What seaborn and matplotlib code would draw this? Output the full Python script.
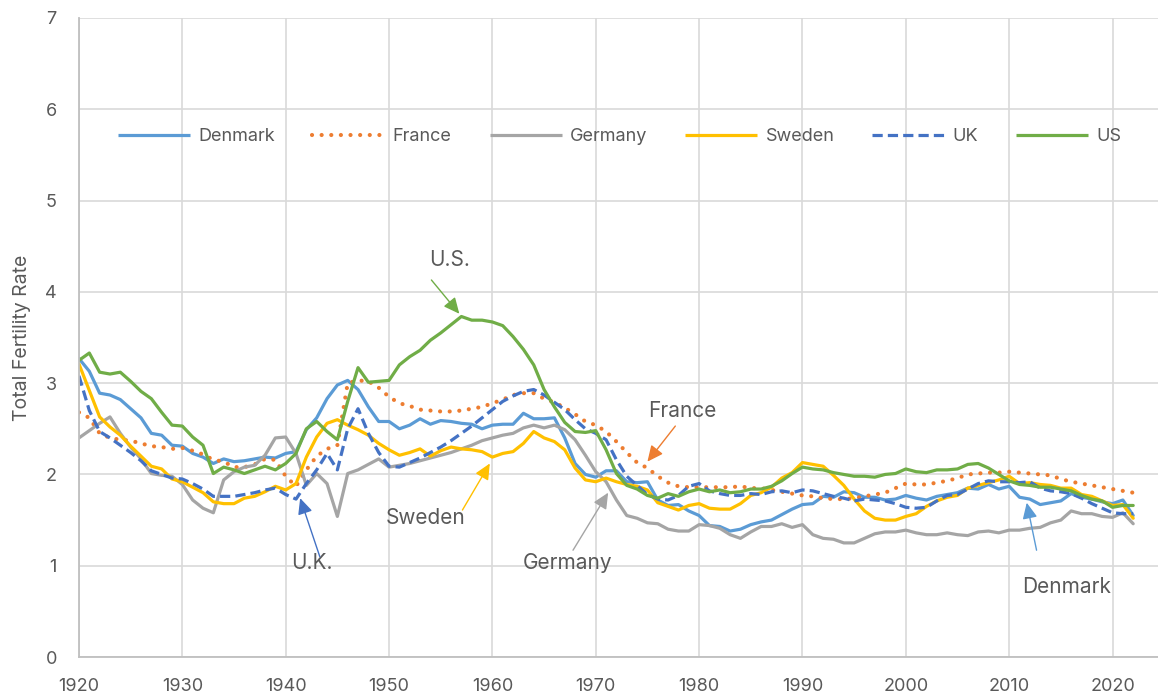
import pandas as pd
import matplotlib.pyplot as plt
import seaborn as sns
from matplotlib.lines import Line2D
from matplotlib.ticker import MultipleLocator

# ---------- DATA (total fertility rate, 1920-2022) ----------
YEARS = list(range(1920, 2023))

DENMARK = [
    3.27, 3.13, 2.89, 2.87, 2.82, 2.72, 2.62, 2.45, 2.43, 2.32,
    2.31, 2.23, 2.19, 2.12, 2.17, 2.14, 2.15, 2.17, 2.19, 2.18,
    2.23, 2.25, 2.49, 2.62, 2.83, 2.98, 3.03, 2.93, 2.74, 2.58,
    2.58, 2.50, 2.54, 2.61, 2.55, 2.59, 2.58, 2.56, 2.55, 2.50,
    2.54, 2.55, 2.55, 2.67, 2.61, 2.61, 2.62, 2.40, 2.12, 2.00,
    1.97, 2.04, 2.04, 1.92, 1.91, 1.92, 1.72, 1.66, 1.67, 1.60,
    1.55, 1.44, 1.43, 1.38, 1.40, 1.45, 1.48, 1.50, 1.56, 1.62,
    1.67, 1.68, 1.76, 1.75, 1.81, 1.80, 1.75, 1.75, 1.72, 1.73,
    1.77, 1.74, 1.72, 1.76, 1.78, 1.80, 1.85, 1.84, 1.89, 1.84,
    1.87, 1.75, 1.73, 1.67, 1.69, 1.71, 1.79, 1.75, 1.73, 1.70,
    1.68, 1.72, 1.55,
]
FRANCE = [
    2.68, 2.62, 2.45, 2.40, 2.38, 2.37, 2.34, 2.31, 2.30, 2.28,
    2.29, 2.26, 2.22, 2.16, 2.14, 2.08, 2.08, 2.11, 2.17, 2.16,
    1.98, 1.87, 2.05, 2.20, 2.28, 2.32, 3.00, 3.03, 3.02, 2.95,
    2.85, 2.78, 2.75, 2.71, 2.70, 2.69, 2.69, 2.70, 2.72, 2.74,
    2.78, 2.82, 2.87, 2.89, 2.89, 2.83, 2.79, 2.73, 2.66, 2.58,
    2.54, 2.47, 2.36, 2.24, 2.13, 2.07, 1.98, 1.91, 1.87, 1.86,
    1.86, 1.86, 1.86, 1.86, 1.87, 1.85, 1.85, 1.83, 1.81, 1.79,
    1.77, 1.76, 1.74, 1.73, 1.73, 1.74, 1.76, 1.78, 1.80, 1.85,
    1.90, 1.89, 1.89, 1.91, 1.93, 1.96, 2.00, 2.01, 2.02, 2.02,
    2.03, 2.02, 2.01, 2.00, 1.99, 1.95, 1.92, 1.90, 1.88, 1.86,
    1.84, 1.82, 1.80,
]
GERMANY = [
    2.40, 2.48, 2.56, 2.63, 2.45, 2.30, 2.17, 2.01, 1.99, 1.98,
    1.89, 1.72, 1.63, 1.58, 1.94, 2.03, 2.08, 2.10, 2.21, 2.40,
    2.41, 2.23, 1.88, 2.01, 1.90, 1.54, 2.01, 2.05, 2.11, 2.17,
    2.08, 2.10, 2.12, 2.15, 2.18, 2.21, 2.24, 2.28, 2.32, 2.37,
    2.40, 2.43, 2.45, 2.51, 2.54, 2.51, 2.54, 2.49, 2.38, 2.21,
    2.03, 1.92, 1.72, 1.55, 1.52, 1.47, 1.46, 1.40, 1.38, 1.38,
    1.45, 1.44, 1.41, 1.34, 1.30, 1.37, 1.43, 1.43, 1.46, 1.42,
    1.45, 1.34, 1.30, 1.29, 1.25, 1.25, 1.30, 1.35, 1.37, 1.37,
    1.39, 1.36, 1.34, 1.34, 1.36, 1.34, 1.33, 1.37, 1.38, 1.36,
    1.39, 1.39, 1.41, 1.42, 1.47, 1.50, 1.60, 1.57, 1.57, 1.54,
    1.53, 1.58, 1.46,
]
SWEDEN = [
    3.21, 2.92, 2.63, 2.52, 2.43, 2.31, 2.20, 2.09, 2.06, 1.95,
    1.92, 1.86, 1.80, 1.70, 1.68, 1.68, 1.74, 1.76, 1.81, 1.87,
    1.83, 1.90, 2.19, 2.41, 2.56, 2.60, 2.54, 2.49, 2.43, 2.34,
    2.27, 2.21, 2.24, 2.28, 2.20, 2.26, 2.30, 2.28, 2.27, 2.25,
    2.19, 2.23, 2.25, 2.34, 2.47, 2.40, 2.36, 2.27, 2.07, 1.94,
    1.92, 1.96, 1.92, 1.89, 1.87, 1.83, 1.69, 1.65, 1.61, 1.66,
    1.68, 1.63, 1.62, 1.62, 1.68, 1.77, 1.80, 1.86, 1.96, 2.02,
    2.13, 2.11, 2.09, 1.99, 1.88, 1.73, 1.60, 1.52, 1.50, 1.50,
    1.54, 1.57, 1.65, 1.71, 1.75, 1.77, 1.85, 1.88, 1.91, 1.94,
    1.98, 1.90, 1.91, 1.89, 1.88, 1.85, 1.85, 1.78, 1.76, 1.71,
    1.66, 1.67, 1.52,
]
UK = [
    3.08, 2.70, 2.47, 2.40, 2.32, 2.24, 2.15, 2.04, 2.00, 1.96,
    1.95, 1.90, 1.84, 1.76, 1.76, 1.76, 1.78, 1.80, 1.83, 1.85,
    1.78, 1.73, 1.90, 2.05, 2.23, 2.05, 2.50, 2.72, 2.45, 2.24,
    2.09, 2.08, 2.13, 2.18, 2.24, 2.30, 2.37, 2.45, 2.53, 2.62,
    2.71, 2.80, 2.86, 2.91, 2.93, 2.87, 2.79, 2.71, 2.60, 2.50,
    2.45, 2.38, 2.16, 1.98, 1.88, 1.78, 1.73, 1.72, 1.77, 1.87,
    1.90, 1.82, 1.79, 1.77, 1.77, 1.79, 1.78, 1.81, 1.82, 1.80,
    1.83, 1.82, 1.79, 1.76, 1.74, 1.71, 1.73, 1.72, 1.71, 1.68,
    1.64, 1.63, 1.64, 1.71, 1.77, 1.78, 1.84, 1.90, 1.93, 1.92,
    1.92, 1.91, 1.92, 1.85, 1.82, 1.81, 1.79, 1.74, 1.68, 1.63,
    1.58, 1.57, 1.57,
]
US = [
    3.25, 3.33, 3.12, 3.10, 3.12, 3.02, 2.91, 2.83, 2.68, 2.54,
    2.53, 2.41, 2.32, 2.01, 2.08, 2.05, 2.01, 2.05, 2.09, 2.05,
    2.12, 2.23, 2.50, 2.58, 2.47, 2.38, 2.80, 3.17, 3.01, 3.02,
    3.03, 3.20, 3.29, 3.36, 3.47, 3.55, 3.64, 3.73, 3.69, 3.69,
    3.67, 3.63, 3.51, 3.37, 3.20, 2.93, 2.74, 2.57, 2.47, 2.46,
    2.48, 2.27, 2.01, 1.88, 1.84, 1.77, 1.74, 1.79, 1.76, 1.81,
    1.84, 1.81, 1.83, 1.80, 1.81, 1.84, 1.84, 1.87, 1.93, 2.01,
    2.08, 2.06, 2.05, 2.02, 2.00, 1.98, 1.98, 1.97, 2.00, 2.01,
    2.06, 2.03, 2.02, 2.05, 2.05, 2.06, 2.11, 2.12, 2.07, 2.00,
    1.93, 1.89, 1.88, 1.86, 1.86, 1.84, 1.82, 1.77, 1.73, 1.71,
    1.64, 1.66, 1.66,
]

COUNTRIES = ["Denmark", "France", "Germany", "Sweden", "UK", "US"]
COLORS = {"Denmark": "#5B9BD5", "France": "#ED7D31", "Germany": "#A5A5A5",
          "Sweden": "#FFC000", "UK": "#4472C4", "US": "#70AD47"}
DASHES = {"Denmark": "", "France": (0.01, 2.3), "Germany": "",
          "Sweden": "", "UK": (3.2, 1.6), "US": ""}

# label text, text position, arrow tail, arrow head
NOTES = [
    ("U.S.", (1955.9, 4.35), (1954.1, 4.13), (1956.8, 3.76), "US"),
    ("France", (1978.4, 2.69), (1977.7, 2.53), (1975.0, 2.14), "France"),
    ("Sweden", (1953.5, 1.52), (1957.1, 1.61), (1959.75, 2.12), "Sweden"),
    ("U.K.", (1942.5, 1.03), (1943.3, 1.10), (1941.4, 1.74), "UK"),
    ("Germany", (1967.3, 1.03), (1967.8, 1.17), (1971.2, 1.80), "Germany"),
    ("Denmark", (2015.6, 0.77), (2012.65, 1.17), (2011.7, 1.69), "Denmark"),
]

TEXT = "#595959"
GRID = "#D9D9D9"
AXIS = "#BFBFBF"

df = pd.DataFrame({"year": YEARS, "Denmark": DENMARK, "France": FRANCE,
                   "Germany": GERMANY, "Sweden": SWEDEN, "UK": UK, "US": US})
long_df = df.melt(id_vars="year", var_name="country", value_name="tfr")

sns.set_theme(style="white")
plt.rcParams["font.family"] = ["Inter", "DejaVu Sans"]

fig = plt.figure(figsize=(11.58, 7.0), dpi=100)
ax = fig.add_axes([0.0682, 0.0614, 0.9318, 0.9129])

sns.lineplot(data=long_df, x="year", y="tfr", hue="country", style="country",
             hue_order=COUNTRIES, style_order=COUNTRIES, palette=COLORS,
             dashes=DASHES, linewidth=2.3, errorbar=None, legend=False, ax=ax)

lines = ax.get_lines()
for line, name in zip(lines, COUNTRIES):
    line.set_solid_joinstyle("round")
    if name == "France":
        line.set_linewidth(3.0)
        line.set_dash_capstyle("round")

# ---------- AXES ----------
ax.set_xlim(1920, 2024.4)
ax.set_ylim(0, 7)
ax.xaxis.set_major_locator(MultipleLocator(10))
ax.xaxis.set_minor_locator(MultipleLocator(2))
ax.yaxis.set_major_locator(MultipleLocator(1))
ax.grid(True, which="major", color=GRID, linewidth=1.2)
ax.set_axisbelow(True)
for side in ["top", "right"]:
    ax.spines[side].set_visible(False)
for side in ["left", "bottom"]:
    ax.spines[side].set_color(AXIS)
    ax.spines[side].set_linewidth(1.3)
ax.tick_params(axis="x", which="major", length=6, width=1.2, color=AXIS,
               labelsize=13, labelcolor=TEXT, pad=9)
ax.tick_params(axis="x", which="minor", length=4, width=1.2, color=AXIS)
ax.tick_params(axis="y", length=0, labelsize=13, labelcolor=TEXT, pad=16)
ax.set_xlabel("")
ax.set_ylabel("Total Fertility Rate", fontsize=14, color=TEXT, labelpad=10)

# ---------- LEGEND ----------
handles = []
for name in COUNTRIES:
    h = Line2D([], [], color=COLORS[name], linewidth=2.3, solid_capstyle="butt")
    if DASHES[name]:
        h.set_dashes(DASHES[name])
    if name == "France":
        h.set_linewidth(3.0)
        h.set_dash_capstyle("round")
    handles.append(h)
ax.legend(handles, COUNTRIES, ncol=6, loc="center", bbox_to_anchor=(0.501, 0.814),
          frameon=False, handlelength=4.0, columnspacing=2.1, handletextpad=0.45,
          fontsize=13, labelcolor=TEXT)

# ---------- ANNOTATIONS ----------
for label, text_xy, tail, head, key in NOTES:
    ax.text(text_xy[0], text_xy[1], label, ha="center", va="center",
            fontsize=15, color=TEXT)
    ax.annotate("", xy=head, xytext=tail,
                arrowprops=dict(arrowstyle="-|>,head_length=0.6,head_width=0.28",
                                color=COLORS[key], lw=1.0, mutation_scale=16,
                                shrinkA=0, shrinkB=0))

fig.savefig("out.png", dpi=100)
